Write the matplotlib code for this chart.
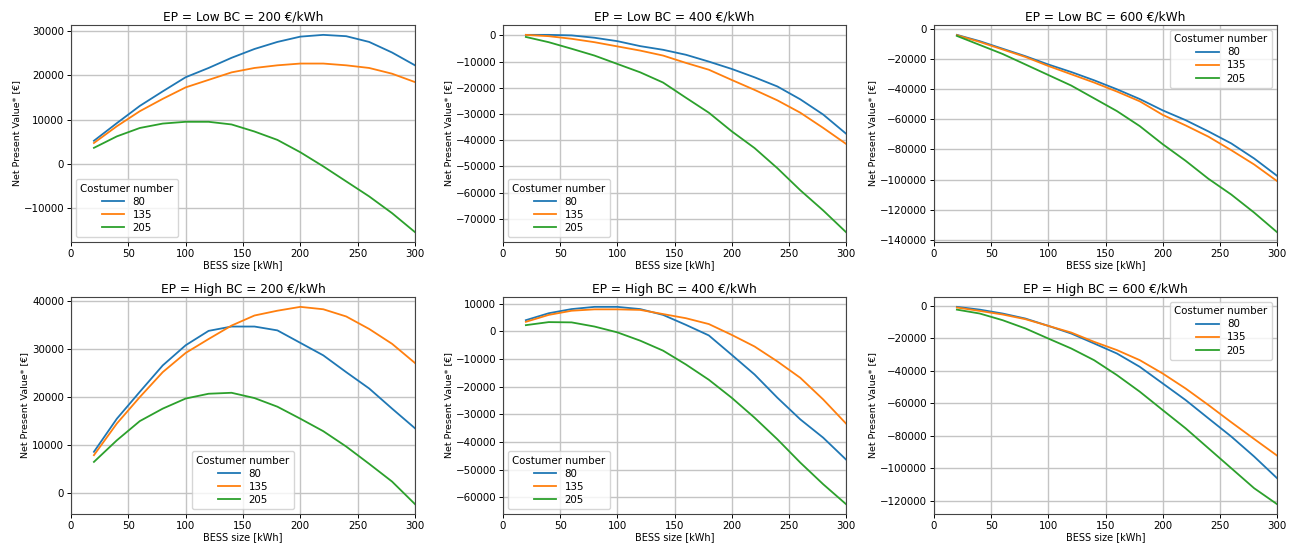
import matplotlib
matplotlib.use("Agg")
import matplotlib.pyplot as plt

# BESS sizes [kWh]
bess_size = [20, 40, 60, 80, 100, 120, 140, 160, 180, 200, 220, 240, 260, 280, 300]
customers = ["80", "135", "205"]

# Net present value [€] per scenario, one list per customer count
low_200_c80 = [5200, 9200, 13100, 16400, 19600, 21700, 24000, 26000, 27600, 28800, 29200, 28900, 27600, 25200, 22300]
low_200_c135 = [4700, 8500, 11900, 14700, 17300, 19000, 20700, 21700, 22300, 22700, 22700, 22300, 21700, 20400, 18500]
low_200_c205 = [3600, 6200, 8100, 9100, 9500, 9500, 8900, 7300, 5400, 2600, -600, -4000, -7400, -11200, -15500]

low_400_c80 = [200, 200, 0, -900, -2200, -4100, -5500, -7400, -10000, -12800, -16000, -19500, -24400, -30200, -37500]
low_400_c135 = [200, -300, -1300, -2600, -4200, -5800, -7700, -10500, -13100, -17000, -20800, -24800, -29500, -35300, -41400]
low_400_c205 = [-600, -2600, -5100, -7700, -10900, -14100, -18000, -23800, -29500, -36600, -43000, -50700, -59100, -66800, -75100]

low_600_c80 = [-3800, -8000, -13000, -18000, -23500, -28500, -34000, -40000, -46500, -54000, -60500, -68000, -76000, -86000, -97500]
low_600_c135 = [-4000, -8500, -13500, -18500, -24500, -30000, -35500, -41500, -48000, -57000, -64000, -71500, -80500, -90000, -101000]
low_600_c205 = [-4500, -10500, -16500, -23500, -30500, -37500, -46000, -54500, -64500, -76500, -87500, -99500, -110000, -122000, -135000]

high_200_c80 = [8500, 15400, 21000, 26500, 30700, 33700, 34600, 34600, 33800, 31200, 28600, 25100, 21700, 17500, 13400]
high_200_c135 = [7800, 14400, 19900, 25100, 29100, 32000, 34800, 36900, 37900, 38700, 38200, 36700, 34100, 31000, 27000]
high_200_c205 = [6400, 10900, 14900, 17500, 19600, 20600, 20800, 19700, 17900, 15400, 12800, 9600, 6000, 2300, -2400]

high_400_c80 = [4000, 6500, 8000, 8800, 8800, 8000, 5900, 2300, -1500, -8500, -15600, -24000, -31800, -38400, -46300]
high_400_c135 = [3400, 5900, 7400, 7900, 7900, 7700, 6200, 4700, 2600, -1300, -5500, -10900, -16800, -24600, -33300]
high_400_c205 = [2200, 3300, 3200, 1700, -400, -3400, -7000, -12000, -17500, -24000, -31200, -39000, -47400, -55200, -62400]

high_600_c80 = [-600, -2300, -4700, -7800, -12300, -17000, -23100, -29300, -37500, -47700, -57900, -69200, -80400, -92700, -106000]
high_600_c135 = [-1000, -3100, -5300, -8200, -12300, -16400, -22100, -27200, -33400, -41600, -50800, -61000, -71600, -81900, -92100]
high_600_c205 = [-2300, -4700, -8800, -13900, -20100, -26200, -33400, -42600, -52800, -64100, -75300, -87600, -99900, -112200, -122000]

panels = [
    ("EP = Low BC = 200 €/kWh", [low_200_c80, low_200_c135, low_200_c205], "lower left"),
    ("EP = Low BC = 400 €/kWh", [low_400_c80, low_400_c135, low_400_c205], "lower left"),
    ("EP = Low BC = 600 €/kWh", [low_600_c80, low_600_c135, low_600_c205], "upper right"),
    ("EP = High BC = 200 €/kWh", [high_200_c80, high_200_c135, high_200_c205], "lower center"),
    ("EP = High BC = 400 €/kWh", [high_400_c80, high_400_c135, high_400_c205], "lower left"),
    ("EP = High BC = 600 €/kWh", [high_600_c80, high_600_c135, high_600_c205], "upper right"),
]

colors = ["#1f77b4", "#ff7f0e", "#2ca02c"]

W, H = 1293, 547
fig = plt.figure(figsize=(W / 100, H / 100), dpi=100)

# axes boxes in pixels: (left, top, right, bottom)
col_px = [(71, 415), (503, 846), (934, 1277)]
row_px = [(25, 242), (297, 514)]

for i, (title, series, loc) in enumerate(panels):
    r, c = divmod(i, 3)
    l, rr = col_px[c]
    t, b = row_px[r]
    ax = fig.add_axes([l / W, 1 - b / H, (rr - l) / W, (b - t) / H])
    for vals, name, col in zip(series, customers, colors):
        ax.plot(bess_size, vals, color=col, lw=1.3, label=name)
    ax.set_xlim(0, 300)
    ax.set_xticks([0, 50, 100, 150, 200, 250, 300])
    ax.grid(True, color="#c4c4c4", lw=1.0)
    ax.set_axisbelow(True)
    ax.set_title(title, fontsize=8.7, pad=3)
    ax.set_xlabel("BESS size [kWh]", fontsize=7, labelpad=1)
    ax.set_ylabel("Net Present Value* [€]", fontsize=6.8, labelpad=2)
    ax.tick_params(labelsize=7.4, length=3, width=0.7, pad=2)
    for sp in ax.spines.values():
        sp.set_color("#444444")
        sp.set_linewidth(0.8)
    ax.legend(title="Costumer number", loc=loc, fontsize=7.4, title_fontsize=7.4,
              frameon=True, framealpha=0.8, edgecolor="#cccccc",
              handlelength=2.2, borderpad=0.4, labelspacing=0.3)

fig.savefig("out.png", dpi=100)
